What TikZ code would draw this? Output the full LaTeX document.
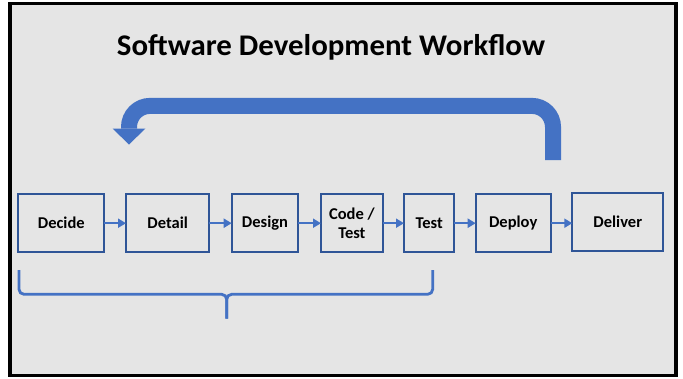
\documentclass[tikz,border=0pt]{standalone}
\usepackage{fontspec}
\setmainfont{Carlito}
\usetikzlibrary{arrows.meta}
\definecolor{panel}{HTML}{E5E5E5}
\definecolor{boxblue}{HTML}{2F5597}
\definecolor{flowblue}{HTML}{4472C4}
\tikzset{
  stagebox/.style={draw=boxblue, line width=2pt, inner sep=0pt, outer sep=0pt,
    minimum height=58.3pt, font=\fontsize{16.5}{19.5}\selectfont\bfseries, align=center},
  flow/.style={draw=flowblue, line width=2pt, -{Triangle[length=8pt,width=9pt]}},
  loop/.style={draw=flowblue, line width=16pt},
  loophead/.style={fill=flowblue},
  bracket/.style={draw=flowblue, line width=2.8pt, rounded corners=5pt}
}
\begin{document}
\begin{tikzpicture}[x=1pt, y=-1pt]
  \useasboundingbox (0,0) rectangle (683,378);
  \fill[white] (0,0) rectangle (683,378);
  % slide panel
  \draw[fill=panel, draw=black, line width=3.2pt] (10,3.5) rectangle (676,375.5);

  % title
  \node[anchor=base, font=\fontsize{30}{34}\selectfont\bfseries, xscale=1.03] (title) at (331,55.5)
    {Software Development Workflow};

  % workflow stages
  \node[stagebox, minimum width=86pt]   (decide)  at (61.3,223.2)  {Decide};
  \node[stagebox, minimum width=83.3pt] (detail)  at (167.65,223.2) {Detail};
  \node[stagebox, minimum width=66.6pt] (design)  at (265,223.2)   {Design};
  \node[stagebox, minimum width=61.7pt] (code)    at (351.85,223.2) {Code /\\Test};
  \node[stagebox, minimum width=50.3pt] (test)    at (429.15,223.2) {Test};
  \node[stagebox, minimum width=75pt]   (deploy)  at (513.2,223.2) {Deploy};
  \node[stagebox, minimum width=91pt, minimum height=58.6pt] (deliver) at (617.8,222) {Deliver};

  % stage-to-stage arrows
  \draw[flow] (decide) -- (detail);
  \draw[flow] (detail) -- (design);
  \draw[flow] (design) -- (code);
  \draw[flow] (code) -- (test);
  \draw[flow] (test) -- (deploy);
  \draw[flow] (deploy.east) -- (deliver.west |- deploy.east);

  % feedback loop arrow
  \coordinate (loopstart) at (553,160);
  \coordinate (looptop) at (553,105.9);
  \coordinate (loopleft) at (129,105.9);
  \coordinate (loopbase) at (129,128.5);
  \coordinate (looptip) at (129,144.5);
  \draw[loop, rounded corners=21pt] (loopstart) -- (looptop) -- (loopleft) -- (loopbase);
  \fill[loophead] ([xshift=-16.5pt]loopbase) -- ([xshift=16.5pt]loopbase) -- (looptip) -- cycle;

  % bracket under the first five stages
  \coordinate (brl) at (19,270);
  \coordinate (brr) at (432.7,270);
  \coordinate (brmid) at (226.7,294.3);
  \coordinate (brtip) at (226.7,318.5);
  \draw[bracket] (brl) |- (brmid) -- (brtip);
  \draw[bracket] (brr) |- (brmid) -- (brtip);
\end{tikzpicture}
\end{document}
